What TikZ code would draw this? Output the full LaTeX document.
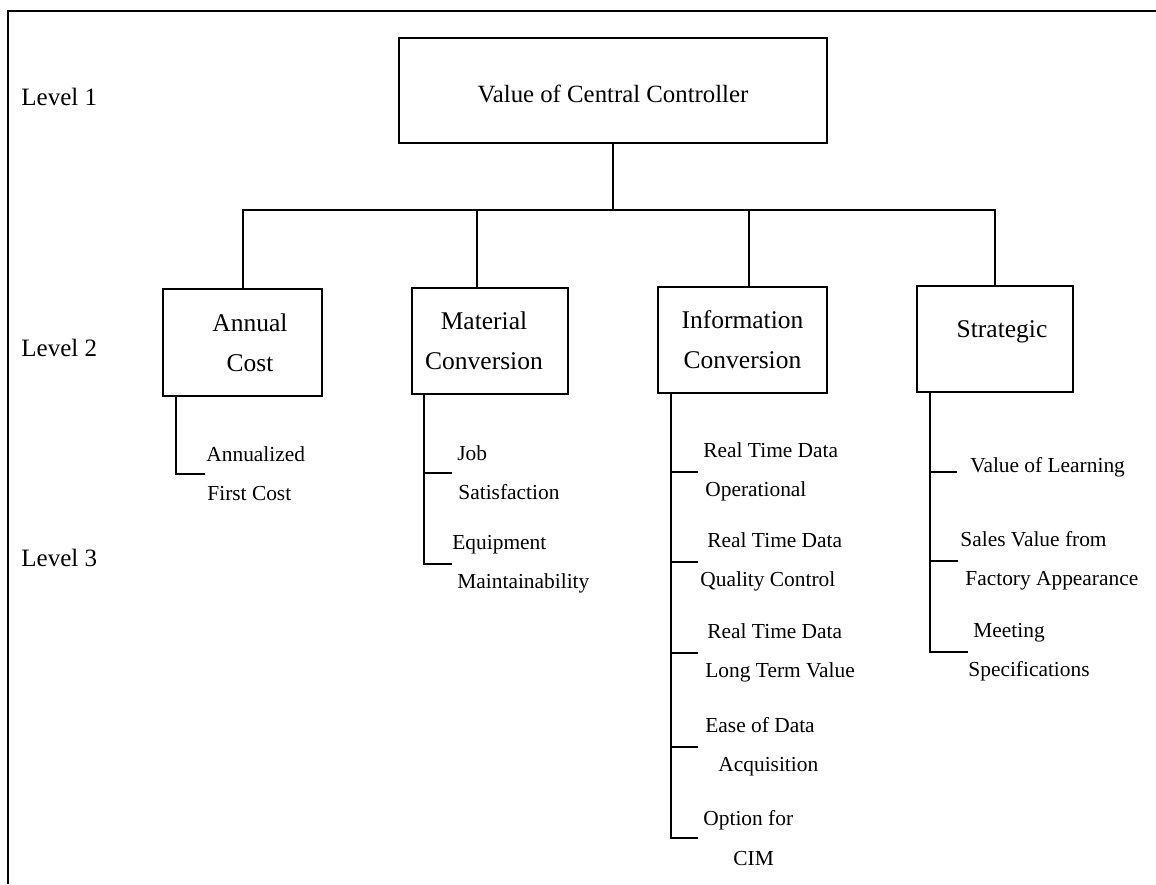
\documentclass[tikz,border=0pt]{standalone}
\usepackage{fontspec}
\setmainfont{Liberation Serif}
\usetikzlibrary{calc}
\begin{document}
\begin{tikzpicture}[x=0.5pt,y=-0.5pt,
  box/.style={draw, line width=1.2pt, inner sep=0pt, align=center,
    font=\fontsize{12.75}{20}\selectfont},
  lvl/.style={anchor=west, inner sep=0pt, font=\fontsize{12.5}{15}\selectfont},
  leaf/.style={anchor=west, inner sep=0pt, align=left,
    font=\fontsize{10.7}{19.6}\selectfont},
  link/.style={line width=1pt}]
\useasboundingbox (0,0) rectangle (1156,884);
\draw[line width=1.4pt] (1156,11) -- (8,11) -- (8,884);

% level labels
\node[lvl] (l1) at (21,97) {Level 1};
\node[lvl] (l2) at (21,348) {Level 2};
\node[lvl] (l3) at (21,558) {Level 3};

% level 1
\node[box, minimum width=214pt, minimum height=52.5pt, text height=12.5pt,
  font=\fontsize{12.4}{15}\selectfont] (m) at (613,90.5) {Value of Central Controller};

% level 2
\node[box, minimum width=79.5pt, minimum height=53.5pt] (a) at (242.5,342.5)
  {\hspace*{7.5pt}Annual\\\hspace*{7.5pt}Cost};
\node[box, minimum width=78pt, minimum height=53pt] (b) at (490,341)
  {Material\hspace*{6pt}\\Conversion\hspace*{6pt}};
\node[box, minimum width=84.5pt, minimum height=53pt] (c) at (742.5,340)
  {Information\\Conversion};
\node[box, minimum width=78pt, minimum height=53pt, text depth=9.8pt] (d) at (995,339)
  {\hspace*{7pt}Strategic};

% connectors level 1 -> level 2
\coordinate (hub) at ($(m.south)+(0,66)$);
\draw[link] (m.south) -- (hub);
\draw[link] (a.north) |- (hub) -| (d.north);
\draw[link] ($(b.north)+(-13,0)$) coordinate (bt) -- (bt |- hub);
\draw[link] ($(c.north)+(6.5,0)$) coordinate (ct) -- (ct |- hub);

% level 3 leaves
\node[leaf] (aa) at (205,474) {\hspace*{0.5pt}Annualized\\\hspace*{1pt}First Cost};
\node[leaf] (j)  at (452,473) {\hspace*{2.5pt}Job\\\hspace*{3pt}Satisfaction};
\node[leaf] (e)  at (452,564) {Equipment\\\hspace*{2.5pt}Maintainability};
\node[leaf] (r1) at (698,472) {\hspace*{2.5pt}Real Time Data\\\hspace*{3.5pt}Operational};
\node[leaf] (r2) at (698,562) {\hspace*{4.5pt}Real Time Data\\\hspace*{1pt}Quality Control};
\node[leaf] (r3) at (698,653) {\hspace*{4.5pt}Real Time Data\\\hspace*{3.5pt}Long Term Value};
\node[leaf] (ea) at (698,747) {\hspace*{3.5pt}Ease of Data\\\hspace*{10pt}Acquisition};
\node[leaf] (op) at (698,838) {\hspace*{2.5pt}Option for\\\hspace*{17.5pt}CIM};
\node[leaf, text depth=7.3pt] (vl) at (957,472) {\hspace*{6.5pt}Value of Learning};
\node[leaf] (sv) at (958,561) {\hspace*{1pt}Sales Value from\\\hspace*{3.5pt}Factory Appearance};
\node[leaf] (mt) at (968,652) {\hspace*{2.5pt}Meeting\\Specifications};

% trunks and branches
\coordinate (ta) at ($(a.south west)+(14,0)$);
\draw[link] (ta) |- (aa.west);

\coordinate (tb) at ($(b.south west)+(13,0)$);
\draw[link] (tb) |- (e.west);
\draw[link] (tb |- j.west) -- (j.west);

\coordinate (tc) at ($(c.south west)+(14,0)$);
\draw[link] (tc) |- (op.west);
\draw[link] (tc |- r1.west) -- (r1.west);
\draw[link] (tc |- r2.west) -- (r2.west);
\draw[link] (tc |- r3.west) -- (r3.west);
\draw[link] (tc |- ea.west) -- (ea.west);

\coordinate (td) at ($(d.south west)+(14,0)$);
\draw[link] (td) |- (mt.west);
\draw[link] (td |- vl.west) -- (vl.west);
\draw[link] (td |- sv.west) -- (sv.west);
\end{tikzpicture}
\end{document}
